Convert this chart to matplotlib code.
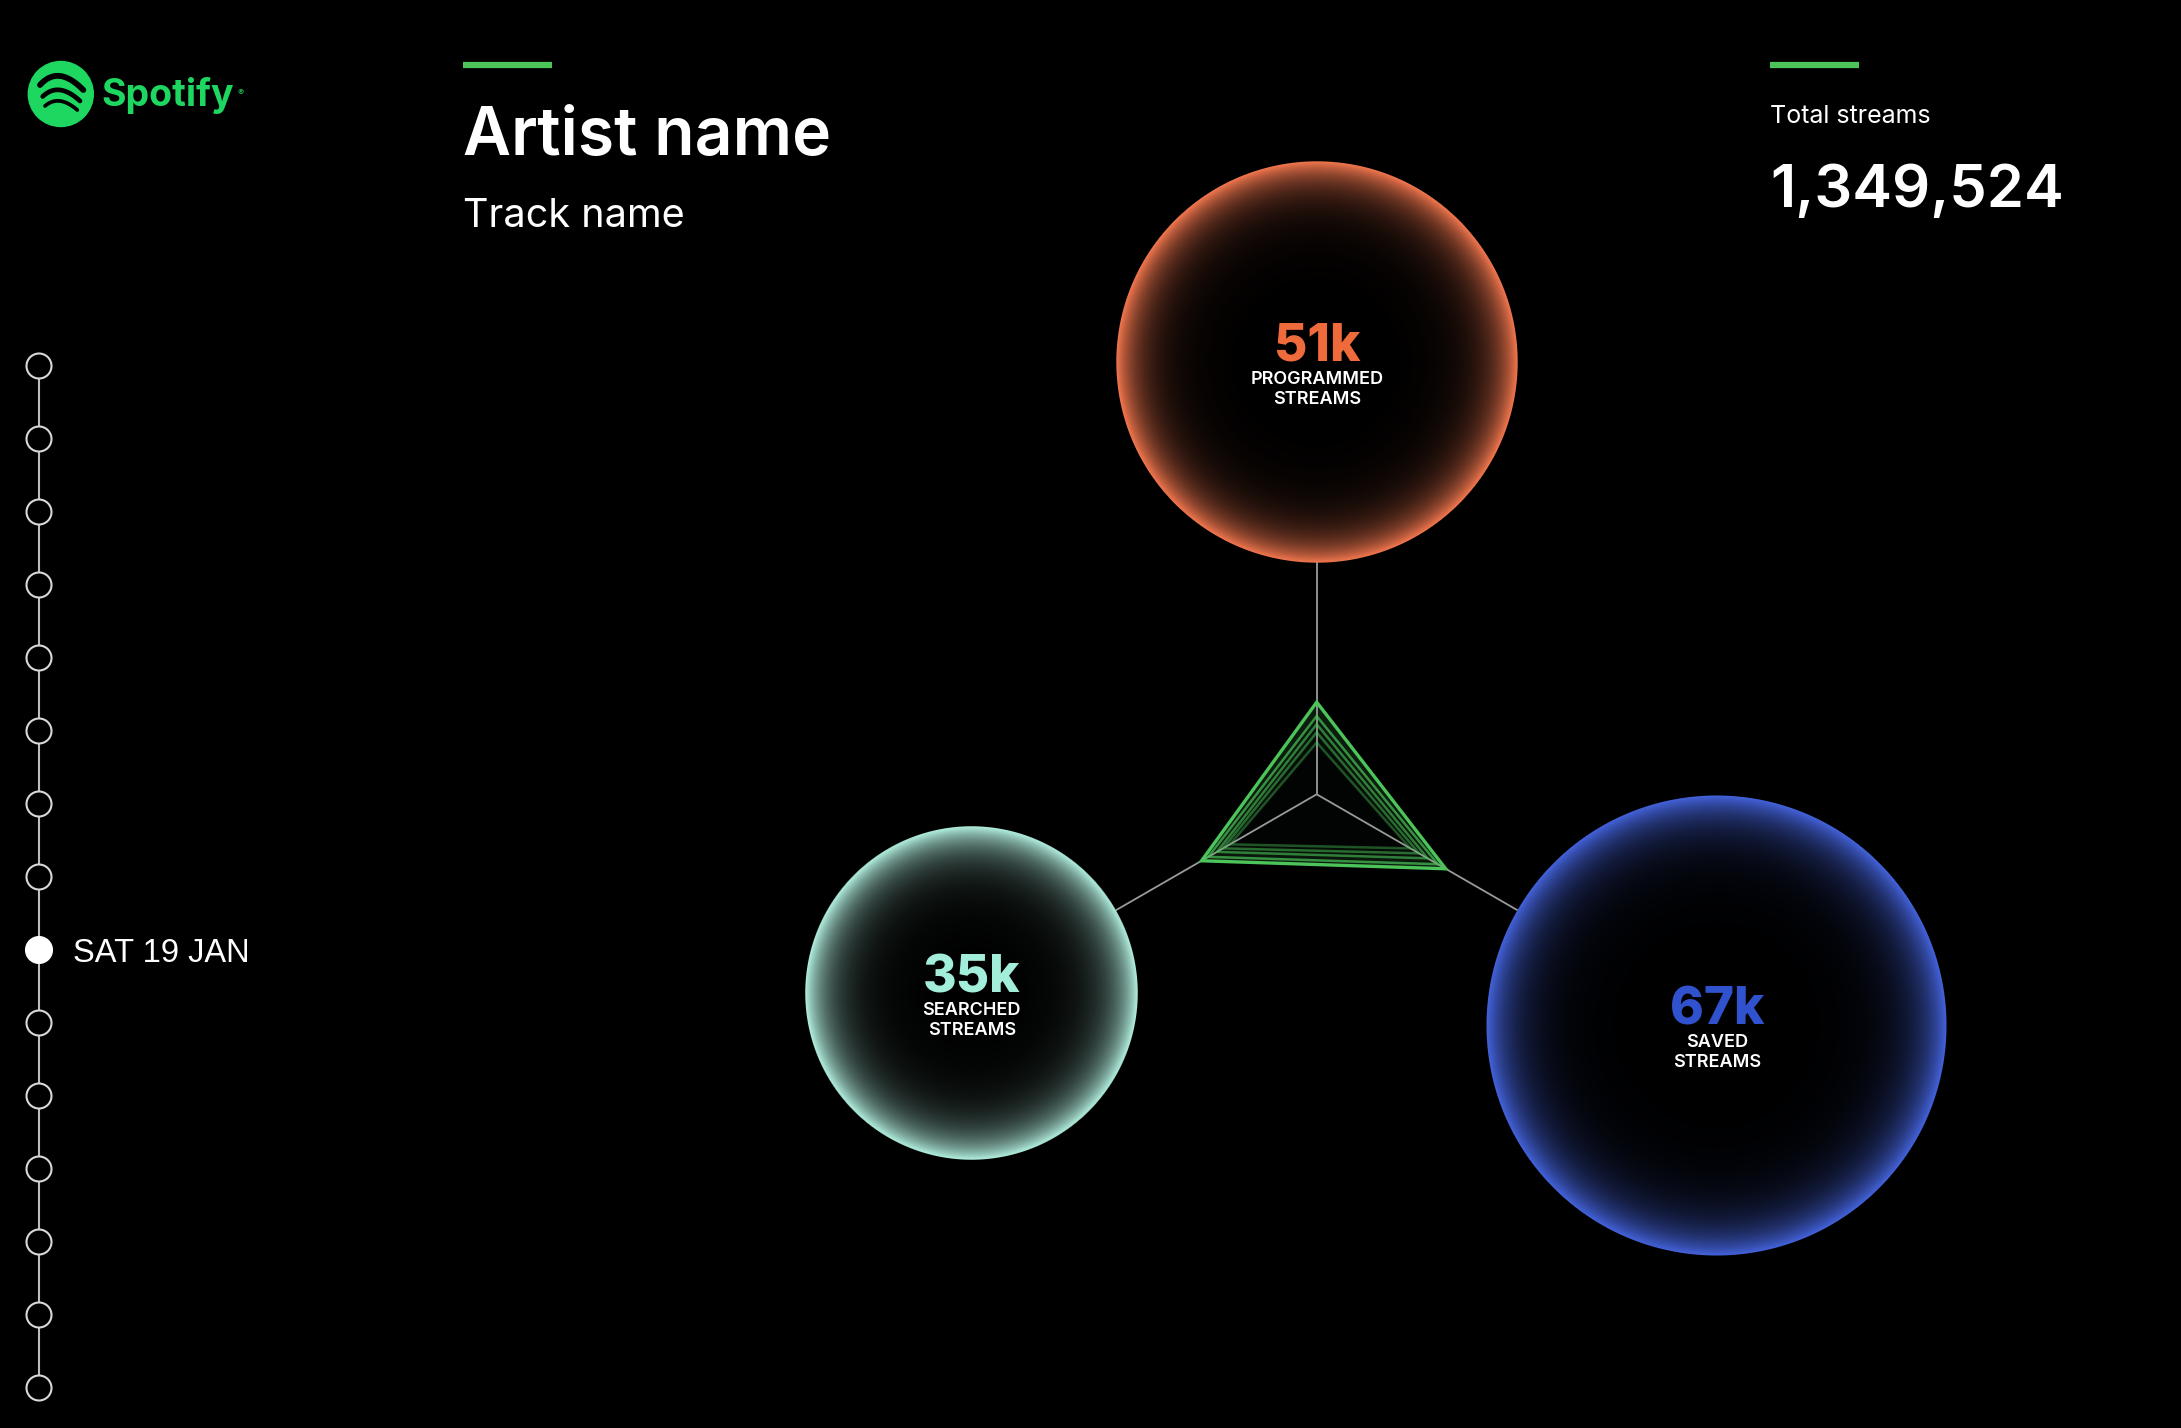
import numpy as np
import matplotlib
matplotlib.use("Agg")
import matplotlib.pyplot as plt
from matplotlib.patches import Circle, Polygon, PathPatch
from matplotlib.path import Path

# ---------------- data ----------------
categories = ["PROGRAMMED", "SEARCHED", "SAVED"]
values_k = [51, 35, 67]
value_labels = ["51k", "35k", "67k"]
total_streams = 1349524
artist = "Artist name"
track = "Track name"
n_days = 15
selected_day = 8
selected_label = "SAT 19 JAN"
# radar trail (oldest -> current), share of spoke length for each category
radar_programmed = [0.223, 0.267, 0.302, 0.337, 0.397]
radar_searched = [0.431, 0.466, 0.496, 0.539, 0.573]
radar_saved = [0.466, 0.509, 0.552, 0.603, 0.642]

# ---------------- style / layout ----------------
W, H = 2181, 1428
BG = "#000000"
GREEN = "#1ED760"
GREEN2 = "#4CC45A"
edge_colors = ["#F5784F", "#B4F2E2", "#4463DC"]
num_colors = ["#F06B3C", "#A3EDDB", "#3152CF"]
falloffs = [0.12, 0.15, 0.12]
hub = (1316.7, 794.3)
spoke_len = 232.0
angles = np.deg2rad([90, 210, 330])
k_rad = 28.1  # px per sqrt(k streams)
FONT = "Inter"

fig = plt.figure(figsize=(W / 100, H / 100), dpi=100, facecolor=BG)
ax = fig.add_axes([0, 0, 1, 1])
ax.set_xlim(0, W)
ax.set_ylim(H, 0)
ax.set_facecolor(BG)
ax.axis("off")


def direction(a):
    return np.cos(a), -np.sin(a)


# ---------------- spokes ----------------
for a in angles:
    dx, dy = direction(a)
    ax.plot([hub[0], hub[0] + dx * spoke_len], [hub[1], hub[1] + dy * spoke_len],
            color="#9a9a9a", lw=1.3, zorder=2, solid_capstyle="butt")

# ---------------- radar trail ----------------
trail = list(zip(radar_programmed, radar_searched, radar_saved))
n_tr = len(trail)
tri_pts = []
for vals in trail:
    pts = []
    for v, a in zip(vals, angles):
        dx, dy = direction(a)
        pts.append((hub[0] + dx * v * spoke_len, hub[1] + dy * v * spoke_len))
    tri_pts.append(np.array(pts))

# soft glow between consecutive triangles
for i in range(n_tr):
    outer = tri_pts[i]
    if i == 0:
        ax.add_patch(Polygon(outer, closed=True, facecolor=GREEN2, alpha=0.025,
                             edgecolor="none", zorder=3))
        continue
    inner = tri_pts[i - 1][::-1]
    verts = np.vstack([outer, outer[:1], inner, inner[:1]])
    codes = ([Path.MOVETO] + [Path.LINETO] * 2 + [Path.CLOSEPOLY]) * 2
    ax.add_patch(PathPatch(Path(verts, codes), facecolor=GREEN2,
                           alpha=0.05 + 0.025 * i, edgecolor="none", zorder=3))

for i, pts in enumerate(tri_pts):
    current = i == n_tr - 1
    alpha = 1.0 if current else 0.4 + 0.1 * i
    lw = 2.4 if current else 1.8
    ax.add_patch(Polygon(pts, closed=True, facecolor="none", edgecolor=GREEN2,
                         lw=lw, alpha=alpha, zorder=4, joinstyle="miter"))

# ---------------- bubbles ----------------
def bubble(cx, cy, r, color, falloff):
    n = int(np.ceil(2 * r)) + 4
    yy, xx = np.mgrid[0:n, 0:n] + 0.5
    d = np.hypot(xx - n / 2, yy - n / 2)
    t = d / r
    inten = np.exp(-np.clip(1 - t, 0, None) / falloff)
    rgb = np.array(matplotlib.colors.to_rgb(color))
    img = np.zeros((n, n, 4))
    img[..., :3] = rgb[None, None, :] * inten[..., None]
    img[..., 3] = np.clip(r - d + 0.5, 0, 1)
    ax.imshow(img, extent=(cx - n / 2, cx + n / 2, cy + n / 2, cy - n / 2),
              interpolation="bilinear", zorder=5)


for cat, val, lab, a, ec, nc, fo in zip(categories, values_k, value_labels, angles,
                                        edge_colors, num_colors, falloffs):
    r = k_rad * np.sqrt(val)
    dx, dy = direction(a)
    dist = spoke_len + r
    cx, cy = hub[0] + dx * dist, hub[1] + dy * dist
    bubble(cx, cy, r, ec, fo)
    ax.text(cx, cy - 1, lab, color=nc, fontsize=37, fontweight="heavy",
            family=FONT, ha="center", va="baseline", zorder=6)
    ax.text(cx, cy + 22, cat, color="white", fontsize=13, fontweight="semibold",
            family=FONT, ha="center", va="baseline", zorder=6)
    ax.text(cx, cy + 42, "STREAMS", color="white", fontsize=13, fontweight="semibold",
            family=FONT, ha="center", va="baseline", zorder=6)

# ---------------- header ----------------
ax.plot([463, 552], [65, 65], color=GREEN2, lw=4.5, solid_capstyle="butt")
ax.plot([1770, 1859], [65, 65], color=GREEN2, lw=4.5, solid_capstyle="butt")
ax.text(463, 155, artist, color="white", fontsize=47.5, fontweight="semibold",
        family=FONT, ha="left", va="baseline")
ax.text(463, 227, track, color="white", fontsize=28.5, family=FONT,
        ha="left", va="baseline")
ax.text(1770, 123, "Total streams", color="white", fontsize=18, family=FONT,
        ha="left", va="baseline")
ax.text(1770, 207, f"{total_streams:,}", color="white", fontsize=43,
        fontweight="semibold", family=FONT, ha="left", va="baseline")

# ---------------- spotify logo ----------------
ax.add_patch(Circle((60.8, 94), 32.5, color=GREEN, zorder=5))
arcs = [((40, 85), (60, 76), (83.3, 90), 4.2),
        ((42.7, 96.5), (60, 90), (80, 101), 3.4),
        ((45, 106), (60, 101), (77.3, 110), 2.7)]
tt = np.linspace(0, 1, 40)
for p0, p1, p2, lw in arcs:
    p0, p1, p2 = map(np.array, (p0, p1, p2))
    ctrl = 2 * p1 - 0.5 * (p0 + p2)
    curve = ((1 - tt) ** 2)[:, None] * p0 + (2 * (1 - tt) * tt)[:, None] * ctrl + (tt ** 2)[:, None] * p2
    ax.plot(curve[:, 0], curve[:, 1], color=BG, lw=lw, solid_capstyle="round", zorder=6)
ax.text(101, 106, "Spotify", color=GREEN, fontsize=27, fontweight="bold",
        family=FONT, ha="left", va="baseline")
ax.text(237, 95, "®", color=GREEN, fontsize=6.5, family=FONT, ha="left", va="baseline")

# ---------------- timeline ----------------
tl_x = 39
tl_y0, tl_step = 366, 73.0
ys = [tl_y0 + i * tl_step for i in range(n_days)]
ax.plot([tl_x, tl_x], [ys[0], ys[-1]], color="#bdbdbd", lw=1.5, zorder=1)
for i, y in enumerate(ys):
    if i == selected_day:
        ax.add_patch(Circle((tl_x, y), 13, facecolor="white", edgecolor="white", lw=1.5, zorder=3))
    else:
        ax.add_patch(Circle((tl_x, y), 12.5, facecolor=BG, edgecolor="#d8d8d8", lw=1.5, zorder=3))
ax.text(73, ys[selected_day] + 11.5, selected_label, color="white", fontsize=23.5,
        family="Liberation Sans", ha="left", va="baseline")

fig.savefig("out.png", dpi=100, facecolor=BG)
